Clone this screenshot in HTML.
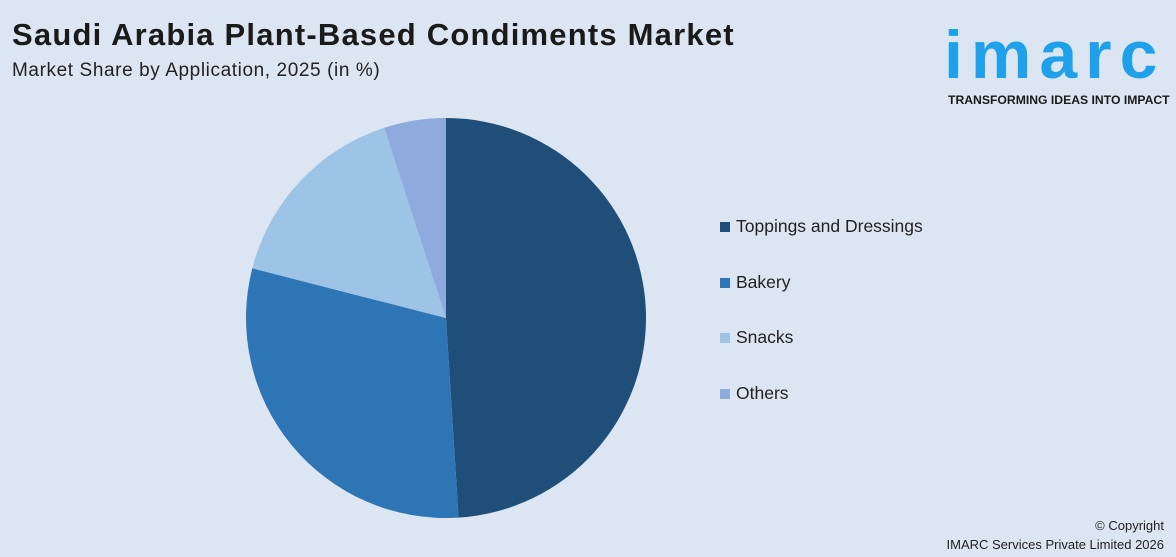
<!DOCTYPE html>
<html><head><meta charset="utf-8"><style>
body{margin:0;width:1176px;height:557px;background:#dce6f3;font-family:"Liberation Sans",sans-serif;overflow:hidden;position:relative}
.t{position:absolute;left:12px;top:17px;font-size:31px;font-weight:bold;color:#1a1a1a;letter-spacing:1.2px}
.s{position:absolute;left:12px;top:60px;font-size:19px;color:#222;letter-spacing:0.6px}
.logo{position:absolute;left:944px;top:22px;font-size:68px;font-weight:bold;color:#1ea0ea;letter-spacing:8px;line-height:66px}
.tag{position:absolute;left:948px;top:93px;font-size:12.2px;font-weight:bold;color:#1a1a1a}
.cp{position:absolute;right:12px;top:516px;font-size:13px;color:#222;text-align:right;line-height:19px}
.lg{position:absolute;left:720px;font-size:17.5px;color:#222}
.lg i{display:inline-block;width:10px;height:10px;margin-right:6px}
</style></head><body>
<div class="t">Saudi Arabia Plant-Based Condiments Market</div>
<div class="s">Market Share by Application, 2025 (in %)</div>
<div class="logo">imarc</div>
<div class="tag">TRANSFORMING IDEAS INTO IMPACT</div>
<svg id="pie" width="1176" height="557" style="position:absolute;left:0;top:0"></svg>
<div id="legend"></div>
<div class="cp">© Copyright<br>IMARC Services Private Limited 2026</div>
<script>
const categories=["Toppings and Dressings","Bakery","Snacks","Others"];
const values=[49,30,16,5];
const colors=["#1f4e79","#2e75b6","#9dc3e6","#8faadc"];
const cx=446,cy=318,r=200;
const svg=document.getElementById('pie');
const total=values.reduce((a,b)=>a+b,0);
let a0=0;
values.forEach((v,i)=>{
  const a1=a0+v/total*2*Math.PI;
  const p=(a)=>[cx+r*Math.sin(a),cy-r*Math.cos(a)];
  const [x0,y0]=p(a0),[x1,y1]=p(a1);
  const path=document.createElementNS("http://www.w3.org/2000/svg","path");
  path.setAttribute('d',`M${cx},${cy}L${x0},${y0}A${r},${r} 0 ${a1-a0>Math.PI?1:0} 1 ${x1},${y1}Z`);
  path.setAttribute('fill',colors[i]);
  
  
  svg.appendChild(path);
  a0=a1;
});
const lg=document.getElementById('legend');
categories.forEach((c,i)=>{
  const d=document.createElement('div');
  d.className='lg';d.style.top=(216+i*55.5)+'px';
  d.innerHTML=`<i style="background:${colors[i]}"></i>${c}`;
  
  
  lg.appendChild(d);
});
</script>
</body></html>
